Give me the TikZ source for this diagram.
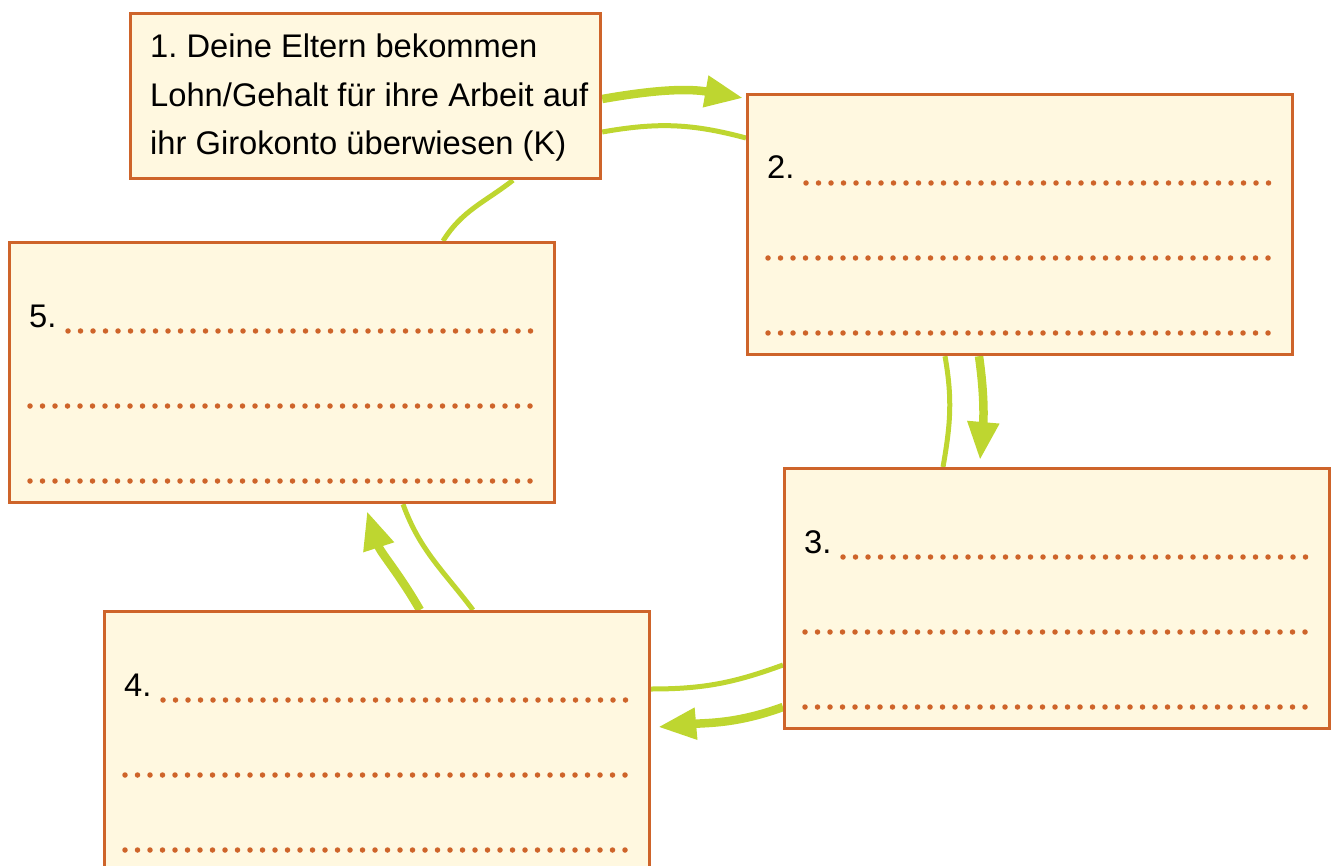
\documentclass[tikz,border=0pt]{standalone}
\usepackage{fontspec}
\setmainfont{Liberation Sans}
\usepackage{xcolor}
\definecolor{colorBorder}{RGB}{206,100,42}
\definecolor{colorFill}{RGB}{255,248,224}
\definecolor{colorArrow}{RGB}{190,214,48}
\usepackage{tikz}
\usetikzlibrary{arrows.meta, backgrounds}
\tikzset{
  box/.style={rectangle, draw=colorBorder, fill=colorFill, line width=3.2pt, anchor=north west, inner sep=0pt, minimum width=545pt, minimum height=260pt},
  boxtext/.style={anchor=base west, inner sep=0pt, font=\fontsize{32.7}{48}\selectfont},
  dotline/.style={colorBorder, line width=5.5pt, line cap=round, dash pattern=on 0pt off 12.5pt},
  flowthin/.style={colorArrow, line width=5pt},
  flowthick/.style={colorArrow, line width=8.5pt, -{Triangle[length=38pt,width=30pt]}}
}
\frenchspacing

\begin{document}
\begin{tikzpicture}[x=1pt, y=-1pt]
\useasboundingbox (0,0) rectangle (1335,866);
\node[box, minimum width=470pt, minimum height=165pt] (b1) at (129,12) {};
\node[box] (b2) at (746,93) {};
\node[box] (b3) at (783,467) {};
\node[box] (b4) at (103,610) {};
\node[box] (b5) at (8,241) {};
% text of box 1
\node[boxtext] (t1a) at ([shift={(21,46)}]b1.north west) {1. Deine Eltern bekommen};
\node[boxtext] (t1b) at ([shift={(21,95)}]b1.north west) {Lohn/Gehalt für ihre Arbeit auf};
\node[boxtext] (t1c) at ([shift={(21,143)}]b1.north west) {ihr Girokonto überwiesen (K)};
% numbers
\node[boxtext] (n2) at ([shift={(21,86)}]b2.north west) {2.};
\node[boxtext] (n3) at ([shift={(21,86)}]b3.north west) {3.};
\node[boxtext] (n4) at ([shift={(21,86)}]b4.north west) {4.};
\node[boxtext] (n5) at ([shift={(21,86)}]b5.north west) {5.};
% answer lines
\draw[dotline] ([shift={(60,90)}]b2.north west) -- ([shift={(523,90)}]b2.north west);
\draw[dotline] ([shift={(22,165)}]b2.north west) -- ([shift={(523,165)}]b2.north west);
\draw[dotline] ([shift={(22,240)}]b2.north west) -- ([shift={(523,240)}]b2.north west);
\draw[dotline] ([shift={(60,90)}]b3.north west) -- ([shift={(523,90)}]b3.north west);
\draw[dotline] ([shift={(22,165)}]b3.north west) -- ([shift={(523,165)}]b3.north west);
\draw[dotline] ([shift={(22,240)}]b3.north west) -- ([shift={(523,240)}]b3.north west);
\draw[dotline] ([shift={(60,90)}]b4.north west) -- ([shift={(523,90)}]b4.north west);
\draw[dotline] ([shift={(22,165)}]b4.north west) -- ([shift={(523,165)}]b4.north west);
\draw[dotline] ([shift={(22,240)}]b4.north west) -- ([shift={(523,240)}]b4.north west);
\draw[dotline] ([shift={(60,90)}]b5.north west) -- ([shift={(523,90)}]b5.north west);
\draw[dotline] ([shift={(22,165)}]b5.north west) -- ([shift={(523,165)}]b5.north west);
\draw[dotline] ([shift={(22,240)}]b5.north west) -- ([shift={(523,240)}]b5.north west);
% cycle arrows
\begin{scope}[on background layer]
\draw[flowthick] ([yshift=-87pt]b1.north east) to[out=10, in=170] ([shift={(-3,5)}]b2.north west);
\draw[flowthin] ([yshift=-120pt]b1.north east) to[out=10, in=165] ([yshift=-45pt]b2.north west);
\draw[flowthin] ([xshift=199pt]b2.south west) to[out=-80, in=80] ([xshift=160pt]b3.north west);
\draw[flowthick] ([xshift=233pt]b2.south west) to[out=-82, in=85] ([shift={(197,-7)}]b3.north west);
\draw[flowthin] ([yshift=-198pt]b3.north west) to[out=200, in=0] ([yshift=-79pt]b4.north east);
\draw[flowthick] ([yshift=-240pt]b3.north west) to[out=200, in=5] ([shift={(7,117)}]b4.north east);
\draw[flowthick] ([xshift=317pt]b4.north west) to[out=120, in=-72] ([shift={(359,7)}]b5.south west);
\draw[flowthin] ([xshift=370pt]b4.north west) to[out=127, in=-70] ([xshift=395pt]b5.south west);
\draw[flowthin] ([xshift=435pt]b5.north west) to[out=58, in=218] ([xshift=384pt]b1.south west);
\end{scope}
\end{tikzpicture}
\end{document}
